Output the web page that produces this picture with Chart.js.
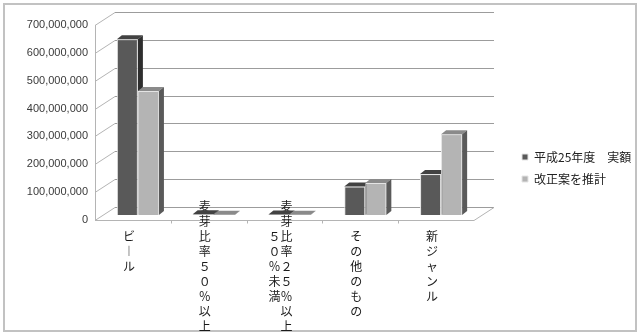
<!DOCTYPE html>
<html><head><meta charset="utf-8">
<script src="https://cdn.jsdelivr.net/npm/chart.js@4.4.1/dist/chart.umd.min.js"></script>
<style>html,body{margin:0;padding:0;background:#fff;overflow:hidden}</style>
</head><body>
<canvas id="c" width="640" height="332" style="display:block;width:640px;height:332px"></canvas>
<script>
// ---- data ----
const categories = ['ビール', '麦芽比率５０％以上', '麦芽比率２５％以上５０％未満', 'その他のもの', '新ジャンル'];
const categoryLabelLines = [
  ['', '', 'ビ', '︱', 'ル'],
  ['麦', '芽', '比', '率', '５', '０', '％', '以', '上'],
  ['　麦', '　芽', '５比', '０率', '％２', '未５', '満％', '　以', '　上'],
  ['', '', 'そ', 'の', '他', 'の', 'も', 'の'],
  ['', '', '新', 'ジ', 'ャ', 'ン', 'ル']
];
const seriesNames = ['平成25年度　実額', '改正案を推計'];
const actualFY25 = [631000000, 2500000, 1800000, 102000000, 147000000];
const revisedEstimate = [445000000, 1200000, 900000, 115000000, 290000000];
const yMin = 0, yMax = 700000000, yStep = 100000000;

// ---- styles ----
const frontColors = ['#595959', '#b4b4b4'];
const faceColors = [{top: '#424242', side: '#2e2e2e'}, {top: '#8a8a8a', side: '#5a5a5a'}];
const WALL = {dx: 20, dy: -13};
const BAR_SHIFT = {dx: 5, dy: -5};
const BAR_DEPTH = {dx: 5, dy: -4};
const LEGEND_LEFT = 512;

function drawFaces(ctx, meta, fc) {
  meta.data.forEach(el => {
    const p = el.getProps(['x', 'y', 'base', 'width'], true);
    const l = p.x - p.width / 2, r = p.x + p.width / 2;
    const t = Math.min(p.y, p.base), b = Math.max(p.y, p.base);
    ctx.fillStyle = fc.top;
    ctx.beginPath();
    ctx.moveTo(l, t); ctx.lineTo(l + BAR_DEPTH.dx, t + BAR_DEPTH.dy);
    ctx.lineTo(r + BAR_DEPTH.dx, t + BAR_DEPTH.dy); ctx.lineTo(r, t);
    ctx.closePath(); ctx.fill();
    ctx.fillStyle = fc.side;
    ctx.beginPath();
    ctx.moveTo(r, t); ctx.lineTo(r + BAR_DEPTH.dx, t + BAR_DEPTH.dy);
    ctx.lineTo(r + BAR_DEPTH.dx, b + BAR_DEPTH.dy); ctx.lineTo(r, b);
    ctx.closePath(); ctx.fill();
  });
}

const frame3d = {
  id: 'frame3d',
  afterLayout(chart) {
    // let the category labels extend above the floor edge and to the bottom of the frame
    const xs = chart.scales.x;
    xs.top = chart.chartArea.bottom - 22;
    xs.bottom = chart.height;
  },
  beforeDraw(chart) {
    const ctx = chart.ctx, a = chart.chartArea, ys = chart.scales.y, xs = chart.scales.x;
    ctx.save();
    ctx.fillStyle = '#fff';
    ctx.fillRect(0, 0, chart.width, chart.height);
    ctx.strokeStyle = '#c2c2c2';
    ctx.lineWidth = 2;
    ctx.strokeRect(4, 4, 632, 327);
    ctx.lineWidth = 1;
    ys.ticks.forEach(t => {
      const py = Math.round(ys.getPixelForValue(t.value)) + 0.5;
      ctx.strokeStyle = '#9c9c9c';
      ctx.beginPath();
      ctx.moveTo(a.left + WALL.dx, py + WALL.dy);
      ctx.lineTo(a.right + WALL.dx, py + WALL.dy);
      ctx.stroke();
      ctx.strokeStyle = '#b4b4b4';
      ctx.beginPath();
      ctx.moveTo(a.left, py);
      ctx.lineTo(a.left + WALL.dx, py + WALL.dy);
      ctx.stroke();
    });
    ctx.strokeStyle = '#b4b4b4';
    ctx.beginPath();
    ctx.moveTo(a.left + 0.5, a.top);
    ctx.lineTo(a.left + 0.5, a.bottom);
    ctx.stroke();
    const fb = Math.round(a.bottom) + 0.5;
    ctx.beginPath();
    ctx.moveTo(a.left, fb);
    ctx.lineTo(a.right, fb);
    ctx.lineTo(a.right + WALL.dx, fb + WALL.dy);
    for (let i = 1; i < categories.length; i++) {
      const px = Math.round((xs.getPixelForValue(i - 1) + xs.getPixelForValue(i)) / 2) + 0.5;
      ctx.moveTo(px, fb);
      ctx.lineTo(px, fb + 3);
    }
    ctx.stroke();
    ctx.restore();
    // place the legend box where the reference has it (its clip box spans to the frame)
    const lg = chart.legend;
    if (lg) {
      lg._savedBox = {left: lg.left, right: lg.right};
      lg.left = LEGEND_LEFT;
      lg.right = chart.width - 2;
    }
  },
  beforeDatasetsDraw(chart) {
    chart.ctx.save();
    chart.ctx.translate(BAR_SHIFT.dx, BAR_SHIFT.dy);
  },
  afterDatasetsDraw(chart) {
    const ctx = chart.ctx;
    const m0 = chart.getDatasetMeta(0), m1 = chart.getDatasetMeta(1);
    ctx.save();
    drawFaces(ctx, m0, faceColors[0]);
    m1.data.forEach(el => el.draw(ctx));
    drawFaces(ctx, m1, faceColors[1]);
    ctx.restore();
    ctx.restore();
  },
  afterDraw(chart) {
    const lg = chart.legend;
    if (lg && lg._savedBox) {
      lg.left = lg._savedBox.left;
      lg.right = lg._savedBox.right;
      lg._savedBox = null;
    }
  }
};

const chart = new Chart(document.getElementById('c'), {
  type: 'bar',
  data: {
    labels: categories,
    datasets: [
      {label: seriesNames[0], data: actualFY25, backgroundColor: frontColors[0], borderColor: '#e4e4e4', borderWidth: 1},
      {label: seriesNames[1], data: revisedEstimate, backgroundColor: frontColors[1], borderColor: '#e4e4e4', borderWidth: 1}
    ]
  },
  options: {
    responsive: false,
    animation: false,
    devicePixelRatio: 1,
    layout: {padding: {left: 0, top: 25, right: 0, bottom: 21}},
    datasets: {bar: {categoryPercentage: 0.555, barPercentage: 1.0}},
    plugins: {
      tooltip: {enabled: false},
      legend: {
        position: 'right',
        align: 'center',
        labels: {
          boxWidth: 6, boxHeight: 6, padding: 10, color: '#222',
          font: {family: '"Noto Sans CJK JP"', size: 12}
        }
      }
    },
    scales: {
      x: {
        grid: {display: false, drawTicks: false},
        border: {display: false},
        ticks: {
          autoSkip: false, maxRotation: 0, minRotation: 0,
          padding: 0.5, labelOffset: -4, color: '#1a1a1a',
          font: {family: '"Noto Sans CJK JP"', size: 12, lineHeight: 1.25},
          callback: (v, i) => categoryLabelLines[i]
        },
        afterFit: s => { s.height = 91; }
      },
      y: {
        min: yMin, max: yMax,
        grid: {display: false, drawTicks: false},
        border: {display: false},
        ticks: {
          stepSize: yStep, padding: 7, color: '#3a3a3a',
          font: {family: '"Liberation Sans", Arial, sans-serif', size: 11},
          callback: v => Number(v).toLocaleString('en-US')
        },
        afterFit: s => { s.width = 95; }
      },
      spacer: {
        type: 'linear', position: 'right', display: true,
        grid: {display: false, drawTicks: false},
        border: {display: false},
        ticks: {display: false},
        afterFit: s => { s.width = 38; }
      }
    }
  },
  plugins: [frame3d]
});
// right padding so the plot area ends where the reference's does (legend width depends on it)
for (let k = 0; k < 5; k++) {
  chart.options.layout.padding.right = Math.max(0, 640 - LEGEND_LEFT - chart.legend.width);
  chart.update();
}
</script>
</body></html>
